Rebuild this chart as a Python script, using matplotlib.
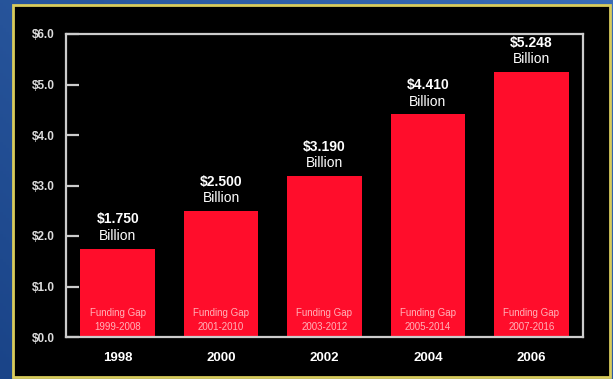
import matplotlib.pyplot as plt
import numpy as np
from matplotlib.colors import LinearSegmentedColormap
from matplotlib.patches import Rectangle

years = ['1998', '2000', '2002', '2004', '2006']
gaps = [1.750, 2.500, 3.190, 4.410, 5.248]
periods = ['1999-2008', '2001-2010', '2003-2012', '2005-2014', '2007-2016']
yticks = [0, 1, 2, 3, 4, 5, 6]

plt.rcParams['font.family'] = ['Liberation Sans', 'DejaVu Sans']

fig = plt.figure(figsize=(6.13, 3.79), dpi=100)

# blue slide backdrop with the black panel on top
bg = fig.add_axes([0, 0, 1, 1])
gx, gy = np.meshgrid(np.linspace(0, 1, 200), np.linspace(0, 1, 120))
cm = LinearSegmentedColormap.from_list('slide', ['#1a4488', '#3a6cb6'])
bg.imshow(0.6 * gx + 0.4 * gy, cmap=cm, aspect='auto', extent=[0, 1, 0, 1], origin='lower')
bg.add_patch(Rectangle((13 / 613, 2 / 379), 597 / 613, 372 / 379, transform=bg.transAxes,
                       facecolor='black', edgecolor='#d9cc5c', linewidth=2))
bg.set_xlim(0, 1)
bg.set_ylim(0, 1)
bg.axis('off')

ax = fig.add_axes([66 / 613, 1 - 337 / 379, (583 - 66) / 613, (337 - 34) / 379])
ax.patch.set_alpha(0)

x = np.arange(len(years))
ax.bar(x, gaps, width=0.72, color='#ff0d2b')

for xi, v, p in zip(x, gaps, periods):
    ax.annotate('$%.3f' % v, (xi, v), xytext=(0, 21), textcoords='offset points',
                ha='center', va='center', color='white', fontsize=10, fontweight='bold')
    ax.annotate('Billion', (xi, v), xytext=(0, 9), textcoords='offset points',
                ha='center', va='center', color='white', fontsize=10)
    ax.text(xi, 0.34, 'Funding Gap\n' + p, ha='center', va='center',
            color='#ffb3ba', fontsize=7, linespacing=1.45)

ax.set_xlim(-0.5, 4.5)
ax.set_ylim(0, 6)
ax.set_xticks(x)
ax.set_xticklabels(years)
ax.set_yticks(yticks)
ax.set_yticklabels(['$%.1f' % t for t in yticks])

for s in ax.spines.values():
    s.set_color('#cccccc')
    s.set_linewidth(1.6)
ax.tick_params(axis='y', direction='in', length=9, width=1.6, color='#cccccc',
               labelcolor='#dddddd', labelsize=8.5, pad=8)
ax.tick_params(axis='x', length=0, labelcolor='white', labelsize=9.5, pad=11)
for lab in ax.get_xticklabels() + ax.get_yticklabels():
    lab.set_fontweight('bold')

fig.savefig('out.png', dpi=100)
